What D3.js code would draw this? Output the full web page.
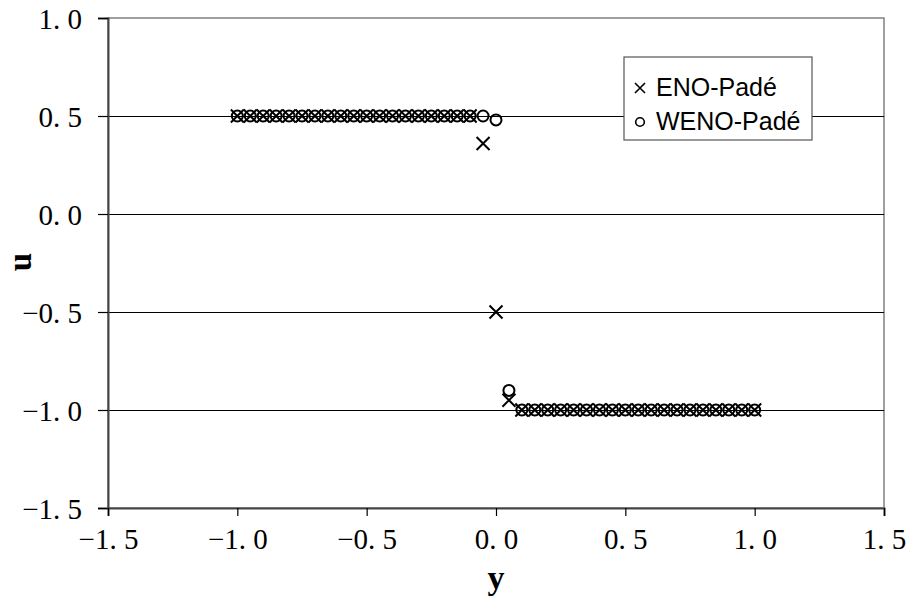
<!DOCTYPE html>
<html><head><meta charset="utf-8">
<script src="https://cdn.jsdelivr.net/npm/d3@7/dist/d3.min.js"></script>
<style>body{margin:0;background:#fff}</style>
</head><body><svg id="c" width="913" height="597"></svg>
<script>
const xValues = [-1.00,-0.95,-0.90,-0.85,-0.80,-0.75,-0.70,-0.65,-0.60,-0.55,-0.50,-0.45,-0.40,-0.35,-0.30,-0.25,-0.20,-0.15,-0.10,-0.05,0.00,0.05,0.10,0.15,0.20,0.25,0.30,0.35,0.40,0.45,0.50,0.55,0.60,0.65,0.70,0.75,0.80,0.85,0.90,0.95,1.00];
const enoPade = [0.5,0.5,0.5,0.5,0.5,0.5,0.5,0.5,0.5,0.5,0.5,0.5,0.5,0.5,0.5,0.5,0.5,0.5,0.5,0.36,-0.5,-0.95,-1.0,-1.0,-1.0,-1.0,-1.0,-1.0,-1.0,-1.0,-1.0,-1.0,-1.0,-1.0,-1.0,-1.0,-1.0,-1.0,-1.0,-1.0,-1.0];
const wenoPade = [0.5,0.5,0.5,0.5,0.5,0.5,0.5,0.5,0.5,0.5,0.5,0.5,0.5,0.5,0.5,0.5,0.5,0.5,0.5,0.5,0.48,-0.9,-1.0,-1.0,-1.0,-1.0,-1.0,-1.0,-1.0,-1.0,-1.0,-1.0,-1.0,-1.0,-1.0,-1.0,-1.0,-1.0,-1.0,-1.0,-1.0];
const xTicks = [-1.5,-1.0,-0.5,0.0,0.5,1.0,1.5];
const yTicks = [-1.5,-1.0,-0.5,0.0,0.5,1.0];
const seriesNames = ["ENO-Padé","WENO-Padé"];
const xTitle = "y", yTitle = "u";

const svg = d3.select("#c");
const L=108,R=884,T=18,B=508;
const x = d3.scaleLinear().domain([-1.5,1.5]).range([L,R]);
const y = d3.scaleLinear().domain([-1.5,1.0]).range([B,T]);
const fmt = v => { const s = Math.abs(v).toFixed(1).replace(".", ". "); return (v<0?"\u2212":"")+s; };

// plot border
svg.append("rect").attr("x",L).attr("y",T).attr("width",R-L).attr("height",B-T)
  .attr("fill","none").attr("stroke","#808080").attr("stroke-width",1.5);
// gridlines
svg.append("g").selectAll("line").data(yTicks.filter(v=>v>-1.5&&v<1.0)).join("line")
  .attr("x1",L).attr("x2",R).attr("y1",d=>Math.round(y(d))+0.5).attr("y2",d=>Math.round(y(d))+0.5)
  .attr("stroke","#000").attr("stroke-width",1);

// axes
const yAx = svg.append("g").attr("transform",`translate(${L},0)`)
  .call(d3.axisLeft(y).tickValues(yTicks).tickFormat(fmt).tickSize(10).tickPadding(16));
const xAx = svg.append("g").attr("transform",`translate(0,${B})`)
  .call(d3.axisBottom(x).tickValues(xTicks).tickFormat(fmt).tickSize(8).tickPadding(12));
[yAx,xAx].forEach(g=>{
  g.select(".domain").attr("stroke","#444").attr("stroke-width",2);
  g.selectAll(".tick line").attr("stroke","#000").attr("stroke-width",1.2);
  g.selectAll("text").attr("font-family","Liberation Serif, serif").attr("font-size",29).attr("fill","#000");
});
yAx.selectAll("text").attr("dy","0.35em");

// titles
svg.append("text").attr("x",496).attr("y",589).attr("text-anchor","middle")
  .attr("font-family","Liberation Serif, serif").attr("font-weight","bold").attr("font-size",34).text(xTitle);
svg.append("text").attr("transform","translate(31,262) rotate(-90)").attr("text-anchor","middle")
  .attr("font-family","Liberation Serif, serif").attr("font-weight","bold").attr("font-size",33).text(yTitle);

// data
const eno = xValues.map((v,i)=>({x:v,y:enoPade[i]}));
const weno = xValues.map((v,i)=>({x:v,y:wenoPade[i]}));
const cs = 6.5;
svg.append("g").selectAll("path").data(eno).join("path")
  .attr("d",d=>{const px=x(d.x),py=y(d.y);return `M${px-cs},${py-cs}L${px+cs},${py+cs}M${px-cs},${py+cs}L${px+cs},${py-cs}`;})
  .attr("stroke","#000").attr("stroke-width",2).attr("fill","none");
svg.append("g").selectAll("circle").data(weno).join("circle")
  .attr("cx",d=>x(d.x)).attr("cy",d=>y(d.y)).attr("r",5.5)
  .attr("stroke","#000").attr("stroke-width",2).attr("fill","none");

// legend
const lg = svg.append("g");
lg.append("rect").attr("x",624).attr("y",57).attr("width",188).attr("height",83)
  .attr("fill","#fff").attr("stroke","#555").attr("stroke-width",1.2);
const lc=5;
lg.append("path").attr("d",`M${640-lc},${88-lc}L${640+lc},${88+lc}M${640-lc},${88+lc}L${640+lc},${88-lc}`)
  .attr("stroke","#000").attr("stroke-width",1.6);
lg.append("circle").attr("cx",640).attr("cy",122).attr("r",4.3).attr("fill","none").attr("stroke","#000").attr("stroke-width",1.6);
lg.selectAll("text").data(seriesNames).join("text")
  .attr("x",656).attr("y",(d,i)=>[87,121][i]).attr("dy","0.35em")
  .attr("font-family","Liberation Sans, Arial, sans-serif").attr("font-size",25).text(d=>d);
</script></body></html>
